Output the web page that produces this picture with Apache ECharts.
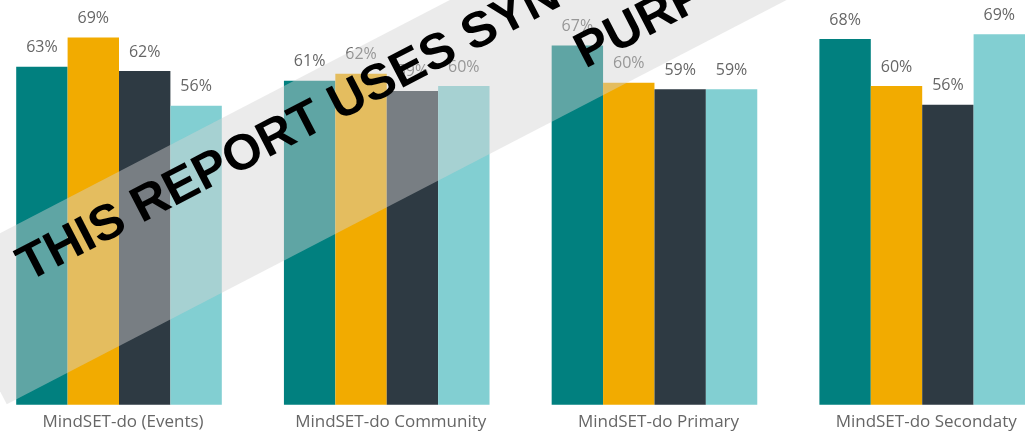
<!DOCTYPE html>
<html>
<head>
<meta charset="utf-8">
<script src="https://cdn.jsdelivr.net/npm/echarts@6/dist/echarts.min.js"></script>
<style>html,body{margin:0;padding:0;background:#fff;}#c{width:1028px;height:434px;}</style>
</head>
<body>
<div id="c"></div>
<script>
const categories = ['MindSET-do (Events)', 'MindSET-do Community', 'MindSET-do Primary', 'MindSET-do Secondaty'];
const series1 = [63.2, 60.6, 67.2, 68.4];
const series2 = [68.7, 61.9, 60.2, 59.6];
const series3 = [62.4, 58.7, 59.0, 56.1];
const series4 = [55.9, 59.6, 59.0, 69.3];
const colors = ['#01807f', '#f2ab00', '#2e3a43', '#82cfd2'];
const watermarkLine1 = 'THIS REPORT USES SYNTHETIC DATA FOR DEMONSTRATION';
const watermarkLine2 = 'PURPOSES';

const chart = echarts.init(document.getElementById('c'), null, {renderer: 'canvas'});
const theta = 27.4 * Math.PI / 180;
function mk(name, data, color) {
  return {
    name, type: 'bar', data, barWidth: 51.4, barGap: '0%', clip: false,
    itemStyle: {color},
    label: {
      show: true, position: 'top', distance: 11,
      formatter: p => Math.round(p.value) + '%',
      color: '#666', fontFamily: 'Open Sans', fontSize: 16, lineHeight: 16
    }
  };
}
chart.setOption({
  animation: false,
  grid: {left: 119, right: 105.8, top: 0, bottom: 29.3},
  xAxis: {
    type: 'category', data: categories, boundaryGap: false,
    axisLine: {show: false}, axisTick: {show: false}, splitLine: {show: false},
    axisLabel: {color: '#666', fontFamily: 'Open Sans', fontSize: 17, lineHeight: 17, margin: 9, padding: [0, 0, 0, 8], interval: 0}
  },
  yAxis: {type: 'value', min: 0, max: 75.7, show: false, splitLine: {show: false}},
  series: [mk('s1', series1, colors[0]), mk('s2', series2, colors[1]), mk('s3', series3, colors[2]), mk('s4', series4, colors[3])],
  graphic: [{
    type: 'group', x: 0, y: 0, rotation: theta, z: 100, silent: true,
    children: [
      {type: 'rect', shape: {x: -180, y: 207, width: 1800, height: 155}, style: {fill: 'rgba(211,211,211,0.45)'}, z: 100},
      {type: 'text', x: -105, y: 249.5, style: {text: watermarkLine1, font: 'bold 50px "Liberation Sans"', fill: '#000', textVerticalAlign: 'middle'}, z: 101},
      {type: 'text', x: 488, y: 316.5, style: {text: watermarkLine2, font: 'bold 50px "Liberation Sans"', fill: '#000', textVerticalAlign: 'middle'}, z: 101}
    ]
  }]
});
</script>
</body>
</html>
